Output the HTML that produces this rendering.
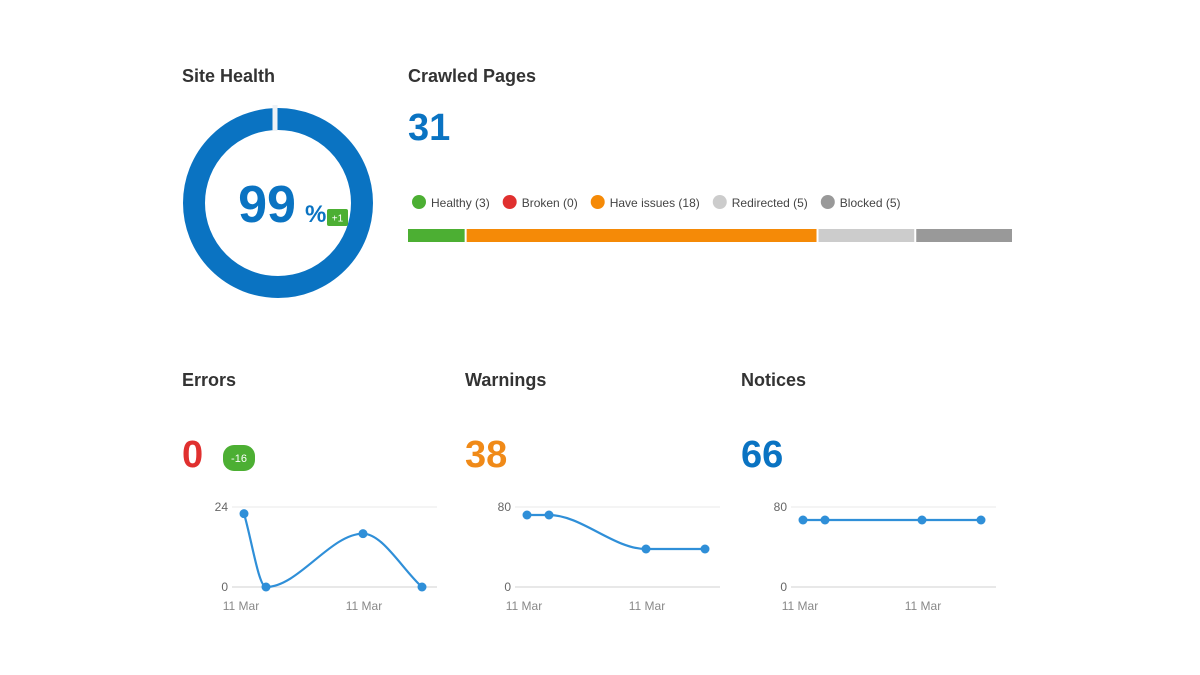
<!DOCTYPE html>
<html><head><meta charset="utf-8"><style>
html,body{margin:0;padding:0;background:#fff;}
svg{display:block;font-family:"Liberation Sans",sans-serif;}
</style></head><body>
<svg id="root" width="1200" height="675" viewBox="0 0 1200 675">
<text x="182" y="82" font-size="18" font-weight="bold" fill="#333">Site Health</text>
<g>
<circle cx="278" cy="203" r="84" fill="none" stroke="#0a73c2" stroke-width="22"/>
<rect x="272.5" y="105" width="5" height="26" fill="#eef2f6"/>
<text x="267" y="222" font-size="52" font-weight="bold" fill="#0a73c2" text-anchor="middle">99</text>
<text x="305" y="222" font-size="24" font-weight="bold" fill="#0a73c2">%</text>
<rect x="327" y="209" width="21" height="17" rx="2" fill="#4caf33"/>
<text x="337.5" y="221.5" font-size="10" fill="#fff" text-anchor="middle">+1</text>
</g>
<text x="408" y="82" font-size="18" font-weight="bold" fill="#333">Crawled Pages</text>
<text x="408" y="140" font-size="38" font-weight="bold" fill="#0a73c2">31</text>
<g id="legend"></g>
<g id="stack"></g>

<text x="182" y="386" font-size="18" font-weight="bold" fill="#333">Errors</text>
<text x="182" y="467" font-size="38" font-weight="bold" fill="#e0302f">0</text>
<rect x="223" y="445" width="32" height="26" rx="11" fill="#4caf33"/>
<text x="239" y="462" font-size="11" fill="#fff" text-anchor="middle">-16</text>
<text x="465" y="386" font-size="18" font-weight="bold" fill="#333">Warnings</text>
<text x="465" y="467" font-size="38" font-weight="bold" fill="#f08a18">38</text>
<text x="741" y="386" font-size="18" font-weight="bold" fill="#333">Notices</text>
<text x="741" y="467" font-size="38" font-weight="bold" fill="#0a73c2">66</text>
<g id="charts"></g>
</svg>
<script>
const NS="http://www.w3.org/2000/svg";
const legendLabels=["Healthy (3)","Broken (0)","Have issues (18)","Redirected (5)","Blocked (5)"];
const pageCounts=[3,0,18,5,5];
const pageColors=["#4caf33","#e0302f","#f58a07","#cccccc","#999999"];
const errorsValues=[22,0,16,0];
const warningsValues=[72,72,38,38];
const noticesValues=[67,67,67,67];
const errorsTicks=[0,24];
const warningsTicks=[0,80];
const noticesTicks=[0,80];
const pointIdx=[0,0.22,1.19,1.78];
const xLabels=["11 Mar","11 Mar"];

function mk(tag,attrs,parent){const e=document.createElementNS(NS,tag);for(const k in attrs)e.setAttribute(k,attrs[k]);parent.appendChild(e);return e;}

const lg=document.getElementById('legend');
let lx=412;
legendLabels.forEach((l,i)=>{
  const c=mk('circle',{cx:lx+7,cy:202,r:7,fill:pageColors[i]},lg);
  
  
  const t=mk('text',{x:lx+19,y:207,'font-size':12,fill:'#444'},lg);
  t.textContent=l;
  
  
  lx+=19+t.getComputedTextLength()+13;
});
const st=document.getElementById('stack');
const total=pageCounts.reduce((a,b)=>a+b,0);
const bx0=408,bw=606;
let acc=0;
pageCounts.forEach((v,i)=>{
  if(v<=0)return;
  const x=bx0+acc/total*bw, w=v/total*bw;
  const r=mk('rect',{x:x,y:229,width:Math.max(0,w-2),height:13,fill:pageColors[i]},st);
  
  
  acc+=v;
});

function smooth(pts){
  const n=pts.length,dx=[],m=[],t=[];
  for(let i=0;i<n-1;i++){dx[i]=pts[i+1][0]-pts[i][0];m[i]=(pts[i+1][1]-pts[i][1])/dx[i];}
  t[0]=m[0];t[n-1]=m[n-2];
  for(let i=1;i<n-1;i++){
    if(m[i-1]*m[i]<=0)t[i]=0;
    else{const w1=2*dx[i]+dx[i-1],w2=dx[i]+2*dx[i-1];t[i]=(w1+w2)/(w1/m[i-1]+w2/m[i]);}
  }
  let d="M"+pts[0][0]+","+pts[0][1];
  for(let i=0;i<n-1;i++){const h=dx[i]/3;
    d+=" C"+(pts[i][0]+h)+","+(pts[i][1]+h*t[i])+" "+(pts[i+1][0]-h)+","+(pts[i+1][1]-h*t[i+1])+" "+pts[i+1][0]+","+pts[i+1][1];}
  return d;
}
function chart(name,x0,vals,ticks){
  const g=mk('g',{},document.getElementById('charts'));
  
  
  const yTop=507,yBot=587,gx0=x0+50,gx1=x0+255,px0=x0+62,pstep=100;
  const maxT=ticks[ticks.length-1];
  const Y=v=>yBot-(v-ticks[0])/(maxT-ticks[0])*(yBot-yTop);
  const X=i=>px0+pointIdx[i]*pstep;
  ticks.forEach(tv=>{
    const l=mk('line',{x1:gx0,x2:gx1,y1:Y(tv),y2:Y(tv),stroke:tv===ticks[0]?'#d0d0d0':'#e8e8e8','stroke-width':1},g);
    
    
    const t=mk('text',{x:gx0-4,y:Y(tv)+4,'font-size':12,fill:'#666','text-anchor':'end'},g);
    t.textContent=tv;
    
    
  });
  xLabels.forEach((s,i)=>{
    const t=mk('text',{x:x0+59+i*123,y:610,'font-size':12,fill:'#888','text-anchor':'middle'},g);
    t.textContent=s;
    
    
  });
  const pts=vals.map((v,i)=>[X(i),Y(v)]);
  const p=mk('path',{d:smooth(pts),fill:'none',stroke:'#2f8fd8','stroke-width':2.2},g);
  
  
  pts.forEach(q=>{
    const c=mk('circle',{cx:q[0],cy:q[1],r:4.5,fill:'#2f8fd8'},g);
    
    
  });
}
chart('errors',182,errorsValues,errorsTicks);
chart('warnings',465,warningsValues,warningsTicks);
chart('notices',741,noticesValues,noticesTicks);
</script>
</body></html>
